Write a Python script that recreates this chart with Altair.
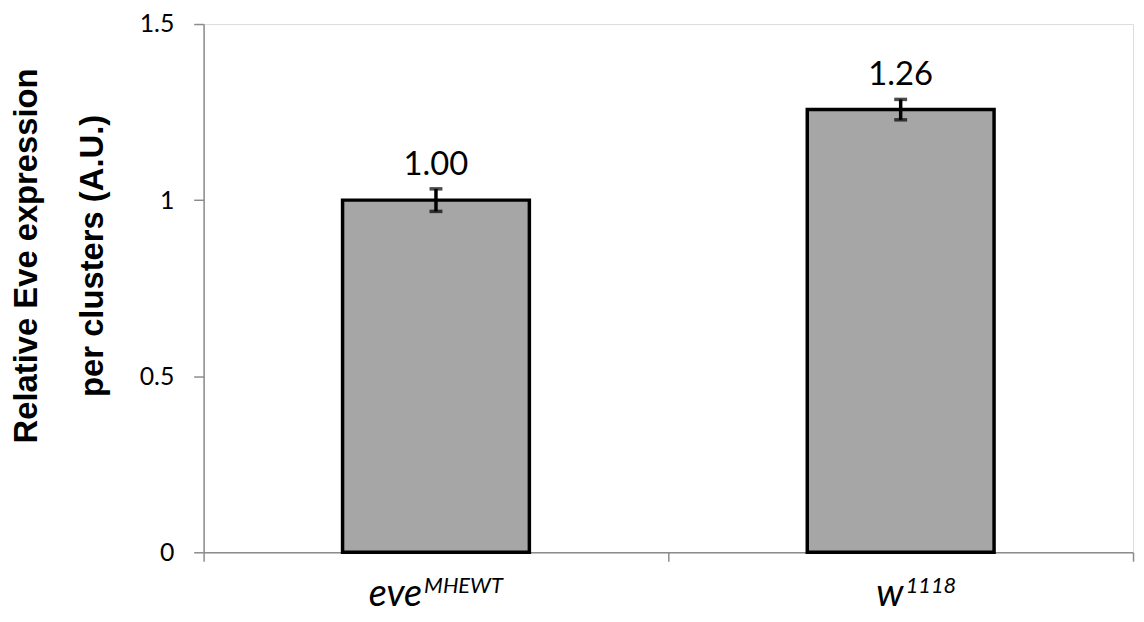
import altair as alt
import pandas as pd

genotypes = ["eveMHEWT", "w1118"]
base_labels = ["eve", "w"]
sup_labels = ["MHEWT", "1118"]
means = [1.00, 1.257]
errors = [0.032, 0.029]

df = pd.DataFrame({
    "genotype": genotypes,
    "base": base_labels,
    "sup": sup_labels,
    "mean": means,
    "err": errors,
})
df["lo"] = df["mean"] - df["err"]
df["hi"] = df["mean"] + df["err"]

AX = "#8c8c8c"

x = alt.X(
    "genotype:N", sort=genotypes,
    scale=alt.Scale(paddingInner=0, paddingOuter=0),
    axis=alt.Axis(title=None, labels=False, tickBand="extent", tickSize=9,
                  domainColor=AX, tickColor=AX, domainWidth=1.5, tickWidth=1.5),
)
y_axis = alt.Axis(
    values=[0, 0.5, 1, 1.5], format="~g", grid=False,
    title=["Relative Eve expression", "per clusters (A.U.)"],
    titleFont="Liberation Sans", titleFontWeight="bold", titleFontSize=33,
    titleLineHeight=66, titleX=-168, titleY=233, titleAngle=-90,
    titleBaseline="alphabetic", titleAlign="center", titleColor="black",
    labelFont="Lato", labelFontSize=25, labelColor="black", labelPadding=20,
    tickSize=10, domainColor=AX, tickColor=AX, domainWidth=1.5, tickWidth=1.5,
)
yscale = alt.Scale(domain=[0, 1.5], nice=False, zero=True)

base = alt.Chart(df)

bars = base.mark_bar(width=alt.RelativeBandSize(0.402), fill="#a6a6a6",
                     stroke="black", strokeWidth=3.5).encode(
    x=x, y=alt.Y("mean:Q", scale=yscale, axis=y_axis))

rule = base.mark_rule(color="black", strokeWidth=3.5).encode(
    x=alt.X("genotype:N", sort=genotypes), y="lo:Q", y2="hi:Q")
cap_lo = base.mark_tick(color="black", size=13, thickness=3.5, orient="horizontal").encode(
    x=alt.X("genotype:N", sort=genotypes), y="lo:Q")
cap_hi = base.mark_tick(color="black", size=13, thickness=3.5, orient="horizontal").encode(
    x=alt.X("genotype:N", sort=genotypes), y="hi:Q")

vals = base.mark_text(font="Lato", fontSize=33, baseline="alphabetic", dy=-14,
                      color="black").encode(
    x=alt.X("genotype:N", sort=genotypes), y="hi:Q",
    text=alt.Text("mean:Q", format=".2f"))

label_layers = []
offsets = {"eveMHEWT": (-14, -12), "w1118": (3, 5)}
for g in genotypes:
    dxb, dxs = offsets[g]
    label_layers.append(
        base.transform_filter(alt.datum.genotype == g).mark_text(
            font="Lato", fontStyle="italic", fontSize=38, align="right",
            baseline="alphabetic", dx=dxb, dy=54, color="black").encode(
            x=alt.X("genotype:N", sort=genotypes), y=alt.datum(0), text="base:N"))
    label_layers.append(
        base.transform_filter(alt.datum.genotype == g).mark_text(
            font="Lato", fontStyle="italic", fontSize=22, align="left",
            baseline="alphabetic", dx=dxs, dy=41, color="black").encode(
            x=alt.X("genotype:N", sort=genotypes), y=alt.datum(0), text="sup:N"))

chart = alt.layer(bars, rule, cap_lo, cap_hi, vals, *label_layers).properties(
    width=936, height=532,
    autosize=alt.AutoSizeParams(type="none"),
    padding={"left": 197, "top": 14, "right": 3, "bottom": 60},
).configure_view(stroke=None).configure(background="white")

chart.save("out.html", embed_options={"renderer": "svg", "actions": False})
